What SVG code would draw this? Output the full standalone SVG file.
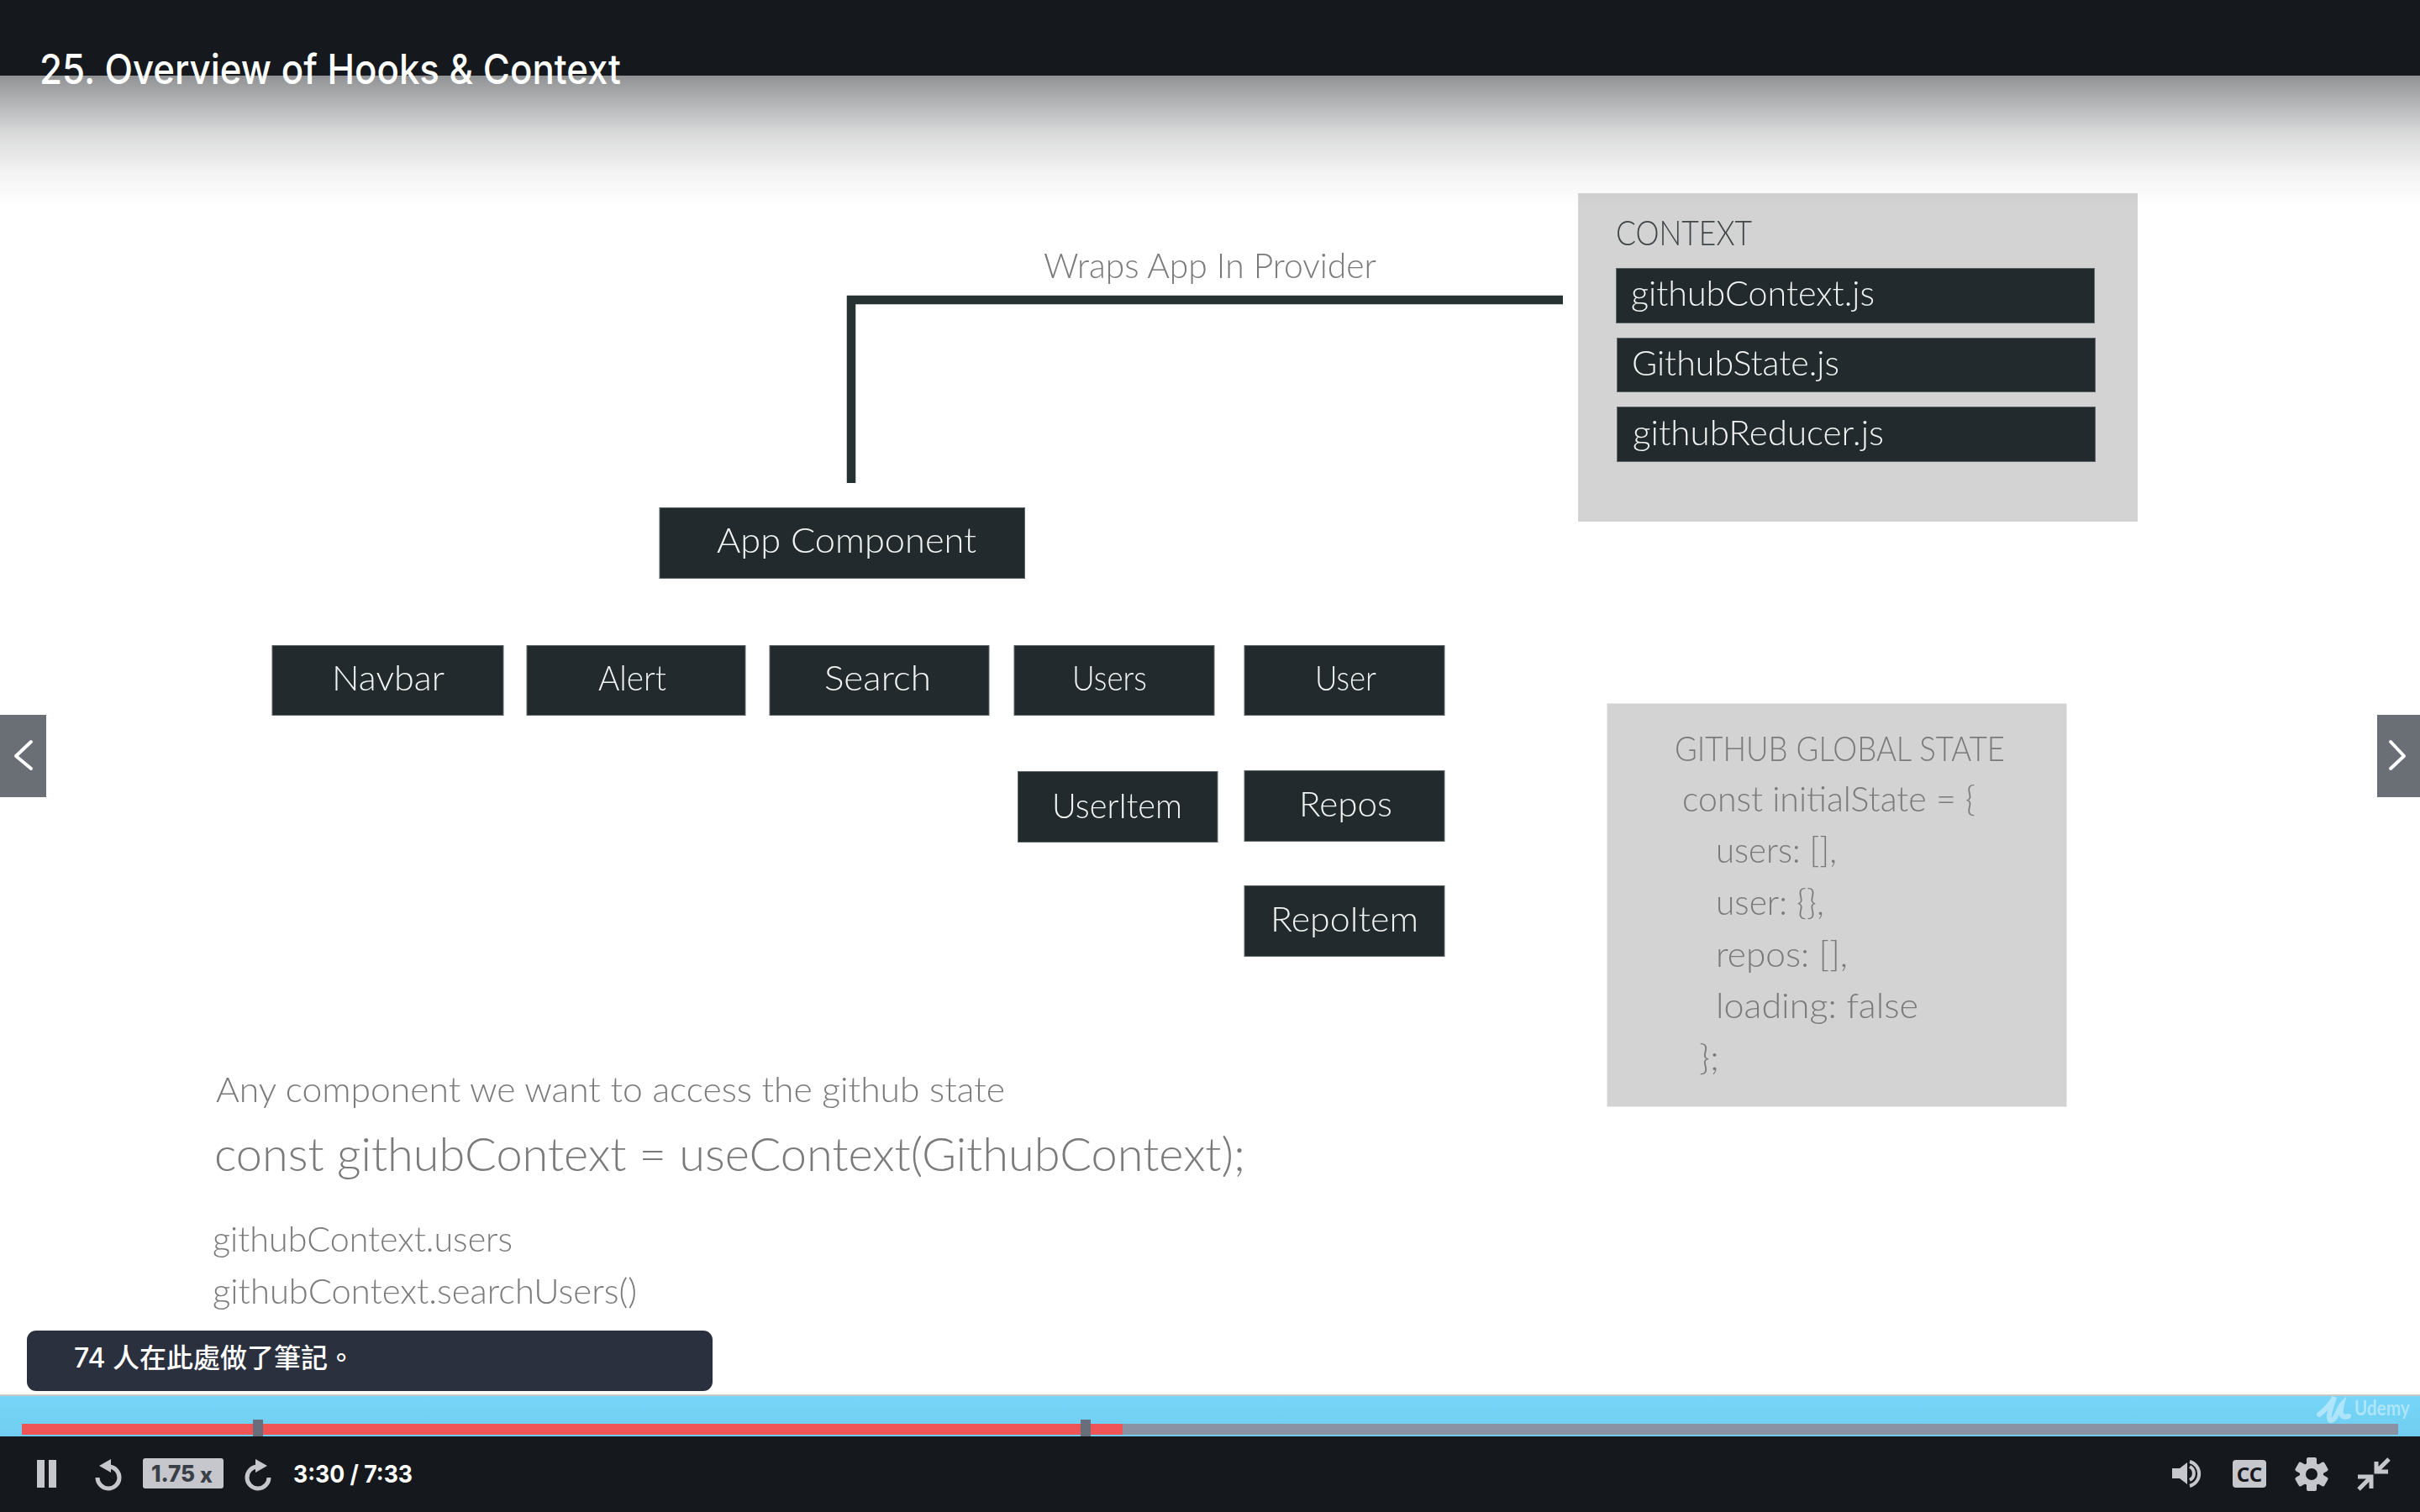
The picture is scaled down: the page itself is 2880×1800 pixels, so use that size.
<svg xmlns="http://www.w3.org/2000/svg" width="2880" height="1800" viewBox="0 0 2880 1800">
<style>
.box{fill:#232c2f;stroke:#5d6669;stroke-width:1}
.panel{fill:#d3d3d3}
.w{font-family:"Lato","Noto Sans",sans-serif;fill:#f2f4f4;font-size:41px;font-weight:300}
.g{font-family:"Lato","Noto Sans",sans-serif;fill:#7a7a7a;font-size:41px;font-weight:300}
.ic{fill:#c5c7cc}
.st{fill:none;stroke:#c5c7cc}
.ui{font-family:"Inter","Liberation Sans",sans-serif}
</style>
<defs>
<linearGradient id="fade" x1="0" y1="0" x2="0" y2="1">
<stop offset="0" stop-color="#15181d" stop-opacity=".47"/>
<stop offset=".2" stop-color="#15181d" stop-opacity=".33"/>
<stop offset=".45" stop-color="#15181d" stop-opacity=".16"/>
<stop offset=".75" stop-color="#15181d" stop-opacity=".05"/>
<stop offset="1" stop-color="#15181d" stop-opacity="0"/>
</linearGradient>
<linearGradient id="band" x1="0" y1="0" x2="0" y2="1">
<stop offset="0" stop-color="#76d5f8"/><stop offset="1" stop-color="#70cdf0"/>
</linearGradient>
<filter id="soft" x="-2%" y="-2%" width="104%" height="104%"><feGaussianBlur stdDeviation="0.7"/></filter>
</defs>
<rect width="2880" height="1800" fill="#ffffff"/>
<g filter="url(#soft)">
<g id="connectors"><path d="M1860 357H1013V575" fill="none" stroke="#263033" stroke-width="10.5"/></g>
<text id="wraps-label" class="g" x="1242" y="331" textLength="396" lengthAdjust="spacingAndGlyphs">Wraps App In Provider</text>
<g id="context">
<rect class="panel" x="1878" y="230" width="666" height="391"/>
<text class="g" style="fill:#3f4547" x="1923" y="292" textLength="162" lengthAdjust="spacingAndGlyphs">CONTEXT</text>
</g>
<g id="github-context"><rect class="box" x="1923.5" y="319.5" width="569" height="65"/><text class="w" x="1941" y="364" textLength="290" lengthAdjust="spacingAndGlyphs">githubContext.js</text></g>
<g id="github-state"><rect class="box" x="1924.5" y="402.5" width="569" height="64"/><text class="w" x="1942" y="447" textLength="247" lengthAdjust="spacingAndGlyphs">GithubState.js</text></g>
<g id="github-reducer"><rect class="box" x="1924.5" y="484.5" width="569" height="65"/><text class="w" x="1943" y="530" textLength="299" lengthAdjust="spacingAndGlyphs">githubReducer.js</text></g>
<g id="app-component"><rect class="box" x="785" y="604.5" width="434.5" height="84"/><text class="w" x="853" y="658" textLength="309" lengthAdjust="spacingAndGlyphs">App Component</text></g>
<g id="navbar"><rect class="box" x="324" y="768.5" width="275" height="83"/><text class="w" x="395" y="822" textLength="134" lengthAdjust="spacingAndGlyphs">Navbar</text></g>
<g id="alert"><rect class="box" x="627" y="768.5" width="260" height="83"/><text class="w" x="712" y="822" textLength="81" lengthAdjust="spacingAndGlyphs">Alert</text></g>
<g id="search"><rect class="box" x="916" y="768.5" width="261" height="83"/><text class="w" x="981" y="822" textLength="127" lengthAdjust="spacingAndGlyphs">Search</text></g>
<g id="users"><rect class="box" x="1207" y="768.5" width="238" height="83"/><text class="w" x="1276" y="822" textLength="89" lengthAdjust="spacingAndGlyphs">Users</text></g>
<g id="user"><rect class="box" x="1481" y="768.5" width="238" height="83"/><text class="w" x="1565" y="822" textLength="73" lengthAdjust="spacingAndGlyphs">User</text></g>
<g id="useritem"><rect class="box" x="1211.5" y="918.5" width="237.5" height="84"/><text class="w" x="1252" y="974" textLength="155" lengthAdjust="spacingAndGlyphs">UserItem</text></g>
<g id="repos"><rect class="box" x="1481" y="917.5" width="238" height="84"/><text class="w" x="1546" y="972" textLength="111" lengthAdjust="spacingAndGlyphs">Repos</text></g>
<g id="repoitem"><rect class="box" x="1481" y="1054.5" width="238" height="84"/><text class="w" x="1512" y="1109" textLength="176" lengthAdjust="spacingAndGlyphs">RepoItem</text></g>
<g id="global-state">
<rect class="panel" x="1912.5" y="837.5" width="547" height="480"/>
<text class="g" x="1993" y="906" textLength="393" lengthAdjust="spacingAndGlyphs">GITHUB GLOBAL STATE</text>
<text class="g" x="2002" y="966" textLength="349" lengthAdjust="spacingAndGlyphs">const initialState = {</text>
<text class="g" x="2042" y="1027" textLength="144" lengthAdjust="spacingAndGlyphs">users: [],</text>
<text class="g" x="2042" y="1089" textLength="129" lengthAdjust="spacingAndGlyphs">user: {},</text>
<text class="g" x="2042" y="1151" textLength="157" lengthAdjust="spacingAndGlyphs">repos: [],</text>
<text class="g" x="2042" y="1212" textLength="241" lengthAdjust="spacingAndGlyphs">loading: false</text>
<text class="g" x="2022" y="1274" textLength="24" lengthAdjust="spacingAndGlyphs">};</text>
</g>
<g id="usage">
<text class="g" x="257" y="1312" textLength="939" lengthAdjust="spacingAndGlyphs">Any component we want to access the github state</text>
<text class="g" style="font-size:55px" x="255" y="1394" textLength="1227" lengthAdjust="spacingAndGlyphs">const githubContext = useContext(GithubContext);</text>
<text class="g" x="253" y="1490" textLength="357" lengthAdjust="spacingAndGlyphs">githubContext.users</text>
<text class="g" x="253" y="1552" textLength="505" lengthAdjust="spacingAndGlyphs">githubContext.searchUsers()</text>
</g>
</g>
<g id="player-top">
<rect x="0" y="90" width="2880" height="155" fill="url(#fade)"/>
<rect x="0" y="0" width="2880" height="90" fill="#15181d"/>
<text class="ui" x="47" y="100" fill="#ffffff" font-size="49" font-weight="500" textLength="692" lengthAdjust="spacingAndGlyphs">25. Overview of Hooks &amp; Context</text>
</g>
<g id="nav-left"><rect x="0" y="851" width="55" height="98" fill="#6a6f76"/><path d="M37 883L19 900L37 915" fill="none" stroke="#fff" stroke-width="4" stroke-linecap="round" stroke-linejoin="round"/></g>
<g id="nav-right"><rect x="2829" y="851" width="51" height="98" fill="#6a6f76"/><path d="M2845 883L2861 900L2845 915" fill="none" stroke="#fff" stroke-width="4" stroke-linecap="round" stroke-linejoin="round"/></g>
<g id="note-tip"><rect x="32" y="1584" width="816" height="72" rx="11" fill="#2a303e"/><text x="88" y="1628" fill="#fff" font-size="32" font-weight="500" font-family="Inter,'Noto Sans CJK TC',sans-serif">74 人在此處做了筆記。</text></g>
<g id="player-bar">
<rect x="0" y="1660" width="2880" height="2" fill="#c8c8c8"/>
<rect x="0" y="1662" width="2880" height="48" fill="url(#band)"/>
<rect x="26" y="1695" width="2828" height="13" fill="#8b92a4"/>
<rect x="26" y="1695" width="1310" height="13" fill="#ef5456"/>
<rect x="301" y="1690" width="12" height="24" fill="#686f7a"/>
<rect x="1286" y="1690" width="12" height="24" fill="#686f7a"/>
<rect x="0" y="1710" width="2880" height="90" fill="#15181d"/>
<g id="udemy-mark" opacity=".42">
<path d="M2760 1684C2768 1678 2776 1668 2778 1663C2776 1672 2768 1690 2774 1691C2780 1691 2783 1676 2787 1672C2785 1680 2784 1689 2795 1686" fill="none" stroke="#fff" stroke-width="6" stroke-linecap="round"/>
<text x="2802" y="1685" fill="#fff" font-size="24" font-weight="700" font-family="Lato,sans-serif" textLength="66" lengthAdjust="spacingAndGlyphs">Udemy</text>
</g>
</g>
<g id="controls">
<rect class="ic" x="44" y="1738" width="9" height="33"/><rect class="ic" x="58" y="1738" width="9" height="33"/>
<path class="st" stroke-width="5" d="M130 1746A13 13 0 1 1 116 1759"/><path class="ic" d="M132 1737V1753L118 1745Z"/>
<rect class="ic" x="170" y="1736" width="96" height="36" rx="3"/>
<text class="ui" x="180" y="1764" font-size="27" font-weight="800" fill="#3a3f47" textLength="52" lengthAdjust="spacingAndGlyphs">1.75</text><text class="ui" x="238" y="1765" font-size="25" font-weight="800" fill="#3a3f47">x</text>
<path class="st" stroke-width="5" d="M306 1746A13 13 0 1 0 320 1759"/><path class="ic" d="M304 1737V1753L318 1745Z"/>
<text class="ui" x="349" y="1765" font-size="29" font-weight="700" fill="#fff" textLength="142" lengthAdjust="spacingAndGlyphs">3:30 / 7:33</text>
<path class="ic" d="M2585 1748H2594L2603 1741V1767L2594 1760H2585Z"/>
<path class="st" stroke-width="4" d="M2606 1746A9 9 0 0 1 2606 1762M2606 1740A15 15 0 0 1 2606 1769"/>
<rect class="ic" x="2657" y="1738" width="40" height="33" rx="4"/>
<text x="2677" y="1764" text-anchor="middle" font-size="24" font-weight="700" fill="#15181d" font-family="'Noto Sans',sans-serif">CC</text>
<g fill="#c5c7cc"><circle cx="2751" cy="1755" r="14"/>
<rect x="2745" y="1735" width="12" height="40" rx="2"/><rect x="2745" y="1735" width="12" height="40" rx="2" transform="rotate(60 2751 1755)"/><rect x="2745" y="1735" width="12" height="40" rx="2" transform="rotate(120 2751 1755)"/></g>
<circle cx="2751" cy="1755" r="7" fill="#15181d"/>
<path class="st" stroke-width="5" d="M2843 1737L2829 1751M2828 1740V1752H2842M2807 1773L2821 1759M2806 1758H2822V1772"/>
</g>
</svg>
